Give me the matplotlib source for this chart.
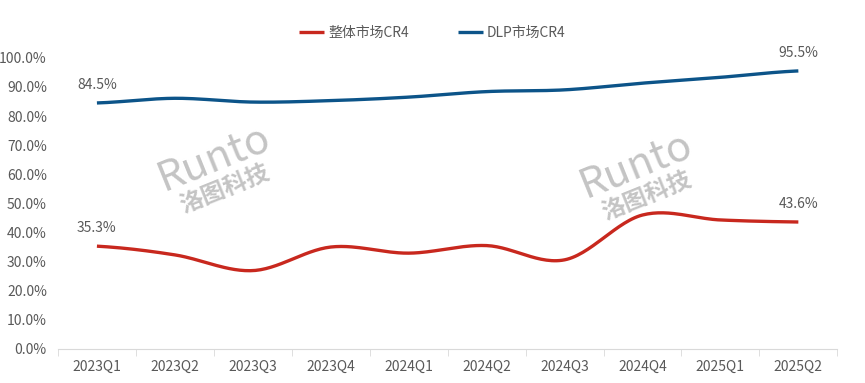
import matplotlib
matplotlib.use("Agg")
import matplotlib.pyplot as plt
import numpy as np

plt.rcParams['font.family'] = ['Noto Sans CJK SC', 'DejaVu Sans']

quarters = ["2023Q1", "2023Q2", "2023Q3", "2023Q4", "2024Q1",
            "2024Q2", "2024Q3", "2024Q4", "2025Q1", "2025Q2"]
total_cr4 = [35.3, 32.3, 26.9, 35.0, 32.9, 35.5, 30.6, 46.0, 44.3, 43.6]
dlp_cr4 = [84.5, 86.1, 84.8, 85.3, 86.5, 88.4, 89.0, 91.3, 93.3, 95.5]


def smooth(y, n=30):
	# Catmull-Rom style smoothing, like an office "smoothed line"
	y = np.asarray(y, dtype=float)
	p = np.concatenate([[y[0]], y, [y[-1]]])
	xs, ys = [], []
	for i in range(len(y) - 1):
		p0, p1, p2, p3 = p[i], p[i + 1], p[i + 2], p[i + 3]
		t = np.linspace(0, 1, n, endpoint=False)
		seg = 0.5 * ((2 * p1) + (-p0 + p2) * t + (2 * p0 - 5 * p1 + 4 * p2 - p3) * t ** 2
		             + (-p0 + 3 * p1 - 3 * p2 + p3) * t ** 3)
		xs.append(i + t)
		ys.append(seg)
	xs.append([len(y) - 1])
	ys.append([y[-1]])
	return np.concatenate(xs), np.concatenate(ys)


red = "#C8281E"
blue = "#0C5489"
grey = "#595959"

fig = plt.figure(figsize=(8.65, 3.83), dpi=100)
ax = fig.add_axes([0.067, 0.089, 0.901, 0.760])

x = np.arange(len(quarters))
sx, sy = smooth(total_cr4)
ax.plot(sx, sy, color=red, lw=2.4, label="整体市场CR4", solid_capstyle="butt", zorder=3)
sx, sy = smooth(dlp_cr4)
ax.plot(sx, sy, color=blue, lw=2.4, label="DLP市场CR4", solid_capstyle="butt", zorder=3)

for series in (total_cr4, dlp_cr4):
	for i in (0, len(series) - 1):
		ax.annotate(f"{series[i]:.1f}%", (x[i], series[i]), xytext=(0, 8),
		            textcoords="offset points", ha="center", va="bottom",
		            fontsize=10, color=grey)

# watermarks
for wx, wy in ((0.20, 0.656), (0.741, 0.632)):
	ax.text(wx, wy, "Runto", transform=ax.transAxes, fontsize=30, color="#c4c4c4",
	        rotation=22, ha="center", va="center", style="italic", zorder=1)
	ax.text(wx + 0.014, wy - 0.105, "洛图科技", transform=ax.transAxes, fontsize=17, color="#c4c4c4",
	        rotation=22, ha="center", va="center", fontweight="bold", zorder=1)

ax.set_xlim(-0.5, len(quarters) - 0.5)
ax.set_ylim(0, 100)
ax.set_yticks(np.arange(0, 101, 10))
ax.set_yticklabels([f"{v:.1f}%" for v in np.arange(0, 101, 10)])
ax.set_xticks(x)
ax.set_xticklabels(quarters)
ax.set_xticks(np.arange(-0.5, len(quarters), 1), minor=True)
ax.tick_params(axis="x", which="major", length=0, pad=8, labelsize=10, labelcolor=grey)
ax.tick_params(axis="x", which="minor", length=5, color="#d9d9d9")
ax.tick_params(axis="y", length=0, pad=8, labelsize=10, labelcolor=grey)
for s in ("top", "right", "left"):
	ax.spines[s].set_visible(False)
ax.spines["bottom"].set_color("#d9d9d9")

fig.legend(loc="upper center", bbox_to_anchor=(0.5, 0.965), ncol=2, frameon=False,
           fontsize=10, labelcolor=grey, handlelength=1.8, columnspacing=3.5, handletextpad=0.3)

fig.savefig("out.png", dpi=100)
